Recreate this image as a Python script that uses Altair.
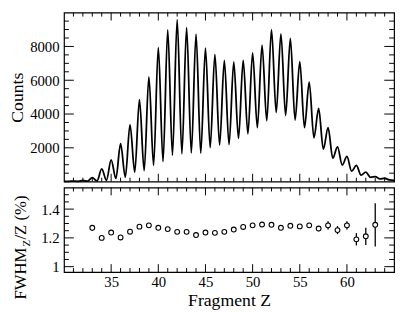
import altair as alt
import pandas as pd

# ---------------- data ----------------
peak_z = list(range(31, 65))
peak_counts = [30, 70, 235, 750, 1290, 2245, 3370, 4850, 6200, 7950,
               8985, 9580, 9110, 8730, 7900, 7530, 7175, 7080, 7175, 7625,
               8080, 9000, 8750, 8480, 7100, 5890, 4330, 3190, 2060, 1490,
               960, 560, 300, 200]
valley_z = [30.5 + i for i in range(35)]
valley_counts = [20, 20, 25, 40, 80, 190, 260, 560, 650, 960,
                 1195, 1560, 1650, 1700, 1685, 2010, 2155, 2190, 2555, 2825,
                 3190, 3600, 4090, 3910, 3640, 3190, 2590, 1920, 1390, 980,
                 615, 380, 255, 163, 100]
edge_z = [30, 65]
edge_counts = [20, 80]

fwhm_z = list(range(33, 64))
fwhm = [1.27, 1.20, 1.237, 1.203, 1.243, 1.278, 1.287, 1.27, 1.261, 1.242,
        1.242, 1.22, 1.237, 1.235, 1.242, 1.258, 1.276, 1.287, 1.293, 1.291,
        1.27, 1.284, 1.28, 1.287, 1.265, 1.287, 1.254, 1.287, 1.19, 1.211,
        1.291]
fwhm_err = [0.02, 0.008, 0.008, 0.008, 0.008, 0.008, 0.008, 0.008, 0.008, 0.008,
            0.008, 0.008, 0.008, 0.008, 0.008, 0.008, 0.008, 0.008, 0.008, 0.008,
            0.01, 0.01, 0.01, 0.012, 0.018, 0.028, 0.028, 0.028, 0.043, 0.06,
            0.15]

x_major = [35, 40, 45, 50, 55, 60]
x_minor = [z for z in range(31, 65) if z % 5 != 0]
counts_major = [2000, 4000, 6000, 8000]
counts_minor = [500 * i for i in range(1, 20) if i % 4 != 0]
fwhm_major = [1.0, 1.2, 1.4]
fwhm_minor = [1.05, 1.1, 1.15, 1.25, 1.3, 1.35, 1.45, 1.5]

# ---------------- tables ----------------
curve = pd.DataFrame({
    "z": peak_z + valley_z + edge_z,
    "count": peak_counts + valley_counts + edge_counts,
}).sort_values("z")
res = pd.DataFrame({"z": fwhm_z, "f": fwhm, "e": fwhm_err})
res["lo"] = res["f"] - res["e"]
res["hi"] = res["f"] + res["e"]

FONT = "Liberation Serif"
W, H1, H2 = 336, 172, 86

xscale = alt.Scale(domain=[30, 65], nice=False, zero=False)
yscale_top = alt.Scale(domain=[0, 10000], nice=False)
yscale_bot = alt.Scale(domain=[0.963, 1.55], nice=False, zero=False)

yaxis_top = alt.Axis(values=counts_major, format="d", title="Counts",
                     ticks=False, tickSize=0, domain=False, grid=False,
                     labelFont=FONT, labelFontSize=15, labelPadding=5,
                     labelColor="black", titleFont=FONT, titleFontSize=18,
                     titleFontWeight="normal", titleColor="black",
                     titlePadding=3)
yaxis_bot = alt.Axis(values=fwhm_major, format="~g", title=None,
                     ticks=False, tickSize=0, domain=False, grid=False,
                     labelFont=FONT, labelFontSize=15, labelPadding=5,
                     labelColor="black")
xaxis_bot = alt.Axis(values=x_major, format="d", title="Fragment Z",
                     ticks=False, tickSize=0, domain=False, grid=False,
                     labelFont=FONT, labelFontSize=15, labelPadding=3,
                     labelColor="black", labelFlush=False,
                     titleFont=FONT, titleFontSize=18, titleFontWeight="normal",
                     titleColor="black", titlePadding=2)


def ticks(xaxis, yaxis, yscale, ymaj, ymin, H):
    out = []
    for vals, L in [(x_major, 8), (x_minor, 4)]:
        d = pd.DataFrame({"v": vals})
        out.append(alt.Chart(d).mark_rule(color="black", strokeWidth=1).encode(
            x=alt.X("v:Q", scale=xscale, axis=xaxis), y=alt.value(0), y2=alt.value(L)))
        out.append(alt.Chart(d).mark_rule(color="black", strokeWidth=1).encode(
            x=alt.X("v:Q", scale=xscale, axis=xaxis), y=alt.value(H), y2=alt.value(H - L)))
    for vals, L in [(ymaj, 10), (ymin, 5)]:
        d = pd.DataFrame({"v": vals})
        out.append(alt.Chart(d).mark_rule(color="black", strokeWidth=1).encode(
            y=alt.Y("v:Q", scale=yscale, axis=yaxis), x=alt.value(0), x2=alt.value(L)))
        out.append(alt.Chart(d).mark_rule(color="black", strokeWidth=1).encode(
            y=alt.Y("v:Q", scale=yscale, axis=yaxis), x=alt.value(W), x2=alt.value(W - L)))
    return out


line = alt.Chart(curve).mark_line(color="black", strokeWidth=1.8,
                                  interpolate="monotone").encode(
    x=alt.X("z:Q", scale=xscale, axis=None),
    y=alt.Y("count:Q", scale=yscale_top, axis=yaxis_top),
)
top = alt.layer(line, *ticks(None, yaxis_top, yscale_top, counts_major,
                             counts_minor, H1)).properties(width=W, height=H1)

bars = alt.Chart(res).mark_rule(color="black", strokeWidth=1.3).encode(
    x=alt.X("z:Q", scale=xscale, axis=xaxis_bot),
    y=alt.Y("lo:Q", scale=yscale_bot, axis=yaxis_bot),
    y2="hi:Q",
)
pts = alt.Chart(res).mark_point(shape="circle", filled=True, fill="white",
                                stroke="black", strokeWidth=1.1, size=24,
                                opacity=1).encode(
    x=alt.X("z:Q", scale=xscale, axis=xaxis_bot),
    y=alt.Y("f:Q", scale=yscale_bot, axis=yaxis_bot),
)

one = pd.DataFrame({"a": [0]})
t1 = alt.Chart(one).mark_text(text="FWHM", angle=270, align="left",
                              baseline="alphabetic", font=FONT, fontSize=17,
                              color="black").encode(x=alt.value(-39), y=alt.value(114))
t2 = alt.Chart(one).mark_text(text="Z", angle=270, align="left",
                              baseline="alphabetic", font=FONT, fontSize=11,
                              color="black").encode(x=alt.value(-35), y=alt.value(60))
t3 = alt.Chart(one).mark_text(text=" /Z (%)", angle=270, align="left",
                              baseline="alphabetic", font=FONT, fontSize=17,
                              color="black").encode(x=alt.value(-39), y=alt.value(53))

bottom = alt.layer(bars, pts, t1, t2, t3,
                   *ticks(xaxis_bot, yaxis_bot, yscale_bot, fwhm_major,
                          fwhm_minor, H2)).properties(width=W, height=H2)

chart = (
    alt.vconcat(top, bottom, spacing=0)
    .properties(padding=0)
    .configure_view(stroke="black", strokeWidth=1.2)
    .configure_axis(labelFont=FONT, titleFont=FONT)
    .configure_text(font=FONT)
)

chart.save("out.html", embed_options={"renderer": "svg", "actions": False})
